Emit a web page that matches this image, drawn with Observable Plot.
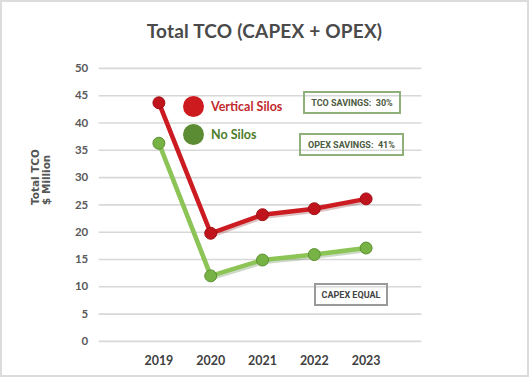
<!DOCTYPE html>
<html>
<head>
<meta charset="utf-8">
<script src="https://cdn.jsdelivr.net/npm/d3@7"></script>
<script src="https://cdn.jsdelivr.net/npm/@observablehq/plot@0.6"></script>
<style>
  html, body { margin: 0; padding: 0; background: #fff; }
  #wrap { position: relative; width: 529px; height: 377px; box-sizing: border-box; border: 2px solid #dcdcdc; overflow: hidden; font-family: "Lato", "DejaVu Sans", sans-serif; }
  #title { position: absolute; left: 0; top: 0; width: 525px; height: 46px; text-align: center; font-size: 19px; font-weight: 700; color: #4a4a4a; line-height: 58px; letter-spacing: 0.2px; }
  #chart { position: absolute; left: -2px; top: 46px; }
  .leg { position: absolute; display: flex; align-items: center; font-weight: 700; font-size: 12.5px; }
  .leg .dot { width: 21px; height: 21px; border-radius: 50%; margin-right: 7px; }
  .box { position: absolute; box-sizing: border-box; border: 2px solid #8fb07a; font-family: "Liberation Sans Narrow", "Roboto", sans-serif; font-size: 9px; font-weight: 700; color: #4b5a40; display: flex; align-items: center; justify-content: center; white-space: pre; }
</style>
</head>
<body>
<div id="wrap">
  <div id="title">Total TCO (CAPEX + OPEX)</div>
  <div id="chart"></div>
</div>
<script>
const years = ["2019", "2020", "2021", "2022", "2023"];
const verticalSilos = [43.7, 19.8, 23.2, 24.3, 26.1];
const noSilos = [36.3, 12.0, 14.9, 15.9, 17.1];
const seriesNames = ["Vertical Silos", "No Silos"];
const yTicks = [0, 5, 10, 15, 20, 25, 30, 35, 40, 45, 50];
const yLabel = "Total TCO\n$ Million";
const notes = ["TCO SAVINGS:  30%", "OPEX SAVINGS:  41%", "CAPEX EQUAL"];

const red = years.map((year, i) => ({year, value: verticalSilos[i], series: seriesNames[0]}));
const green = years.map((year, i) => ({year, value: noSilos[i], series: seriesNames[1]}));

const chart = Plot.plot({
  width: 529,
  height: 331,
  marginTop: 20,
  marginBottom: 37,
  marginLeft: 99,
  marginRight: 106,
  style: { fontFamily: "Lato, 'DejaVu Sans', sans-serif", background: "transparent" },
  x: { type: "point", domain: years, range: [132, 393], label: null },
  y: { domain: [0, 50], label: null },
  marks: [
    Plot.ruleY(yTicks, { stroke: "#d8d8d8", strokeWidth: 1.6 }),
    Plot.axisY({ ticks: yTicks, tickSize: 0, tickPadding: 11, fontSize: 11.5, fontWeight: 700, fill: "#5a5a5a", label: null }),
    Plot.axisX({ tickSize: 0, tickPadding: 15, fontSize: 12.5, fontWeight: 700, fill: "#3f3f3f", label: null }),
    Plot.text([yLabel], { frameAnchor: "left", dx: -58, rotate: -90, fontSize: 10.5, fontWeight: "bold", fontFamily: "DejaVu Sans", fill: "#555", lineHeight: 1.05 }),
    // shadows
    Plot.line(red, { x: "year", y: "value", stroke: "#7a1010", strokeWidth: 4.5, strokeOpacity: 0.25, dy: 2, dx: 1 }),
    Plot.line(green, { x: "year", y: "value", stroke: "#3d6b22", strokeWidth: 4.5, strokeOpacity: 0.25, dy: 2, dx: 1 }),
    Plot.line(red, { x: "year", y: "value", stroke: "#cc1c22", strokeWidth: 4.5 }),
    Plot.line(green, { x: "year", y: "value", stroke: "#8cc456", strokeWidth: 4.5 }),
    Plot.dot(red, { x: "year", y: "value", r: 6, fill: "#c0141c", stroke: "#9e0f15", strokeWidth: 1 }),
    Plot.dot(green, { x: "year", y: "value", r: 6, fill: "#77b344", stroke: "#5a8e31", strokeWidth: 1 })
  ]
});
document.getElementById("chart").appendChild(chart);

const wrap = document.getElementById("wrap");
function legend(name, color, textColor, left, top) {
  const d = document.createElement("div");
  d.className = "leg";
  d.style.left = left + "px"; d.style.top = top + "px"; d.style.color = textColor;
  d.innerHTML = `<span class="dot" style="background:${color}"></span><span>${name}</span>`;
  wrap.appendChild(d);
}
legend(seriesNames[0], "#cc1a1f", "#c22a2e", 181, 94);
legend(seriesNames[1], "#5b8c33", "#4d7d2b", 181, 122);

function box(text, left, top, w, h, border) {
  const d = document.createElement("div");
  d.className = "box";
  d.textContent = text;
  d.style.left = left + "px"; d.style.top = top + "px"; d.style.width = w + "px"; d.style.height = h + "px";
  if (border) { d.style.borderColor = border; d.style.color = "#444"; }
  wrap.appendChild(d);
}
box(notes[0], 301, 89, 98, 23);
box(notes[1], 297, 131, 105, 23);
box(notes[2], 312, 281, 74, 23, "#9a9a9a");
</script>
</body>
</html>
